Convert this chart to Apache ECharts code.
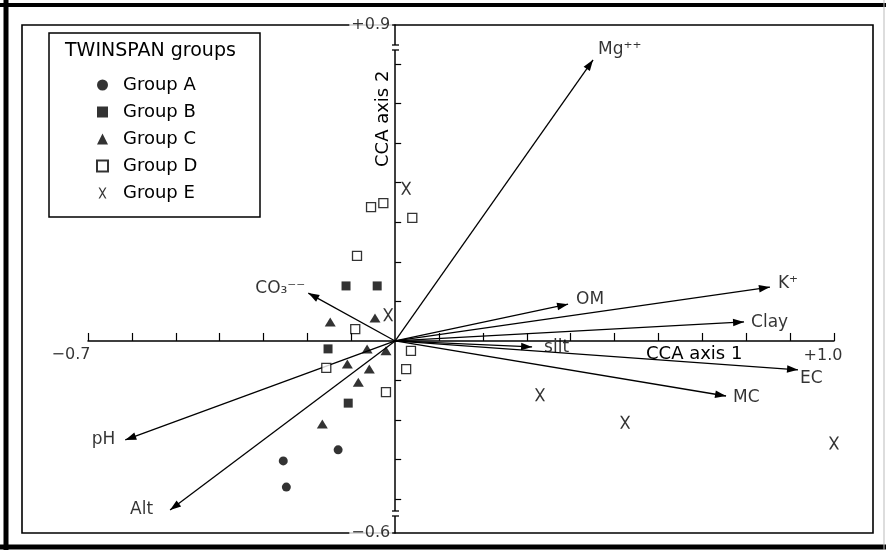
<!DOCTYPE html>
<html><head><meta charset="utf-8">
<script src="https://cdn.jsdelivr.net/npm/echarts@6/dist/echarts.min.js"></script>
<style>html,body{margin:0;padding:0;background:#fff}#c{width:886px;height:550px}</style>
</head><body><div id="c"></div>
<script>
// ---- data ----
const groupNames = ['Group A', 'Group B', 'Group C', 'Group D', 'Group E'];
const groupA = [[-0.255, -0.303], [-0.248, -0.369], [-0.130, -0.275]];
const groupB = [[-0.112, 0.139], [-0.041, 0.139], [-0.153, -0.020], [-0.107, -0.157]];
const groupC = [[-0.148, 0.048], [-0.046, 0.058], [-0.064, -0.020], [-0.021, -0.025],
                [-0.109, -0.058], [-0.059, -0.071], [-0.084, -0.104], [-0.166, -0.210]];
const groupD = [[-0.055, 0.338], [-0.027, 0.348], [0.039, 0.311], [-0.087, 0.215], [-0.091, 0.030],
                [-0.157, -0.068], [0.036, -0.025], [0.025, -0.071], [-0.021, -0.129]];
const groupE = [[0.025, 0.386], [-0.016, 0.066], [0.330, -0.136], [0.524, -0.205], [1.000, -0.258]];

const envNames = ['Mg⁺⁺', 'K⁺', 'OM', 'Clay', 'silt', 'EC', 'MC', 'CO₃⁻⁻', 'pH', 'Alt'];
const envAxis1 = [0.451, 0.854, 0.394, 0.795, 0.312, 0.918, 0.754, -0.198, -0.615, -0.513];
const envAxis2 = [0.710, 0.136, 0.093, 0.048, -0.015, -0.073, -0.139, 0.121, -0.250, -0.427];

const xTicks = [-0.7, -0.6, -0.5, -0.4, -0.3, -0.2, -0.1, 0.1, 0.2, 0.3, 0.4, 0.5, 0.6, 0.7, 0.8, 0.9, 1.0];
const yTicks = [-0.4, -0.3, -0.2, -0.1, 0.1, 0.2, 0.3, 0.4, 0.5, 0.6, 0.7];
const xEndLabels = ['−0.7', '+1.0'];
const yEndLabels = ['−0.6', '+0.9'];
const xAxisTitle = 'CCA axis 1';
const yAxisTitle = 'CCA axis 2';
const legendTitle = 'TWINSPAN groups';

// ---- layout / style ----
const X_MIN = -0.7, X_MAX = 1.0;
const Y_MIN = -0.485, Y_MAX = 0.798;   // broken axis: its ends are labelled -0.6 / +0.9
const FONT = 'DejaVu Sans';
const INK = '#000';
const xShape = 'path://M0,0L1.8,0L5,5.5L8.2,0L10,0L5.9,7L10,14L8.2,14L5,8.5L1.8,14L0,14L4.1,7Z';
const headShape = 'path://M0,0M22,0M11,11L14.8,22L7.2,22Z';

const envLabelLayout = [
  {position: 'right', offset: [0, -10]},
  {position: 'right', offset: [3, -4]},
  {position: 'right', offset: [3, -5]},
  {position: 'right', offset: [2, 1]},
  {position: 'right', offset: [7, 1]},
  {position: 'right', offset: [-3, 9]},
  {position: 'right', offset: [2, 2]},
  {position: 'left', offset: [2, -4]},
  {position: 'left', offset: [-5, 0]},
  {position: 'left', offset: [-12, 0]}
];

const groupStyles = [
  {symbol: 'circle', symbolSize: 9, itemStyle: {color: INK}},
  {symbol: 'rect', symbolSize: 9, itemStyle: {color: INK}},
  {symbol: 'triangle', symbolSize: [11, 9], itemStyle: {color: INK}},
  {symbol: 'rect', symbolSize: 9, itemStyle: {color: '#fff', borderColor: INK, borderWidth: 1.3}},
  {symbol: xShape, symbolSize: [10, 13], itemStyle: {color: INK}}
];
const groupData = [groupA, groupB, groupC, groupD, groupE];

const chart = echarts.init(document.getElementById('c'), null, {renderer: 'canvas'});

const series = groupNames.map((name, i) => Object.assign({
  name: name,
  type: 'scatter',
  data: groupData[i],
  z: 3
}, groupStyles[i]));

series.push({
  name: 'arrows',
  type: 'lines',
  coordinateSystem: 'cartesian2d',
  data: envNames.map((n, i) => ({coords: [[0, 0], [envAxis1[i], envAxis2[i]]]})),
  lineStyle: {color: INK, width: 1.3, opacity: 1, curveness: 0},
  symbol: ['none', headShape],
  symbolSize: 22,
  z: 2,
  silent: true
});

series.push({
  name: 'envLabels',
  type: 'scatter',
  symbolSize: 0,
  silent: true,
  data: envNames.map((n, i) => ({
    name: n,
    value: [envAxis1[i], envAxis2[i]],
    label: envLabelLayout[i]
  })),
  label: {show: true, formatter: '{b}', fontFamily: FONT, fontSize: 17, color: INK},
  z: 4
});

// end-of-axis labels, placed through the axes' own scales
const endLabelStyle = {show: true, formatter: '{b}', fontFamily: FONT, fontSize: 16, color: INK};
series.push({
  name: 'axisEnds',
  type: 'scatter',
  symbolSize: 0,
  silent: true,
  z: 7,
  data: [
    {name: xEndLabels[0], value: [X_MIN, 0], label: {position: 'bottom', distance: 6, offset: [-17, 0]}},
    {name: xEndLabels[1], value: [X_MAX, 0], label: {position: 'bottom', distance: 7, offset: [-11, 0]}},
    {name: yEndLabels[0], value: [0, Y_MIN], label: {position: 'left', distance: 3, backgroundColor: '#fff', padding: [1, 2]}},
    {name: yEndLabels[1], value: [0, Y_MAX], label: {position: 'left', distance: 3, backgroundColor: '#fff', padding: [1, 2]}}
  ],
  label: endLabelStyle
});

chart.setOption({
  animation: false,
  backgroundColor: '#fff',
  textStyle: {fontFamily: FONT},
  title: {
    text: legendTitle, left: 65, top: 42, padding: 0,
    textStyle: {fontFamily: FONT, fontSize: 19, fontWeight: 'normal', color: INK}
  },
  legend: {
    data: groupNames, orient: 'vertical', left: 96, top: 76, padding: 0,
    itemWidth: 11, itemHeight: 11, itemGap: 9, selectedMode: false,
    formatter: '{t|{name}}',
    textStyle: {
      fontFamily: FONT, fontSize: 18, color: INK,
      rich: {t: {fontFamily: FONT, fontSize: 18, color: INK, lineHeight: 20, padding: [0, 0, 0, 10]}}
    }
  },
  grid: {left: 88, right: 52, top: 25, bottom: 17, containLabel: false},
  xAxis: {
    type: 'value', min: X_MIN, max: X_MAX, z: 5,
    axisLine: {onZero: true, lineStyle: {color: INK, width: 1.5}},
    axisTick: {show: true, inside: true, length: 8, customValues: xTicks, lineStyle: {color: INK, width: 1.2}},
    splitLine: {show: false},
    axisLabel: {show: false},
    name: xAxisTitle, nameLocation: 'end', nameGap: -188,
    nameTextStyle: {fontFamily: FONT, fontSize: 18, color: INK, align: 'left', verticalAlign: 'top', padding: [4, 0, 0, 0]}
  },
  yAxis: {
    type: 'value', min: Y_MIN, max: Y_MAX, z: 6,
    axisLine: {onZero: true, lineStyle: {color: INK, width: 1.5}},
    axisTick: {show: true, inside: true, length: 6, customValues: yTicks, lineStyle: {color: INK, width: 1.2}},
    splitLine: {show: false},
    axisLabel: {show: false},
    name: yAxisTitle, nameLocation: 'end', nameRotate: 90, nameGap: -142,
    nameTextStyle: {fontFamily: FONT, fontSize: 18, color: INK, align: 'left', verticalAlign: 'bottom', padding: [0, 0, 3, 0]}
  },
  graphic: {
    elements: [
      {type: 'line', z: 0, shape: {x1: 0, y1: 5, x2: 886, y2: 5}, style: {stroke: '#000', lineWidth: 4}},
      {type: 'line', z: 0, shape: {x1: 6, y1: 0, x2: 6, y2: 550}, style: {stroke: '#000', lineWidth: 5}},
      {type: 'line', z: 0, shape: {x1: 0, y1: 547, x2: 886, y2: 547}, style: {stroke: '#000', lineWidth: 5}},
      {type: 'line', z: 0, shape: {x1: 884, y1: 0, x2: 884, y2: 550}, style: {stroke: '#bbb', lineWidth: 1}},
      {type: 'rect', z: 0, shape: {x: 22, y: 25, width: 851, height: 508}, style: {fill: 'none', stroke: INK, lineWidth: 1.6}},
      {type: 'rect', z: 0, shape: {x: 49, y: 33, width: 211, height: 184}, style: {fill: '#fff', stroke: INK, lineWidth: 1.5}},
      // axis-break marks on the vertical axis
      {type: 'rect', z: 20, shape: {x: 391, y: 45, width: 8, height: 5}, style: {fill: '#fff'}},
      {type: 'line', z: 20, shape: {x1: 392, y1: 45, x2: 399, y2: 45}, style: {stroke: INK, lineWidth: 1.3}},
      {type: 'line', z: 20, shape: {x1: 392, y1: 50, x2: 399, y2: 50}, style: {stroke: INK, lineWidth: 1.3}},
      {type: 'rect', z: 20, shape: {x: 391, y: 511, width: 8, height: 5}, style: {fill: '#fff'}},
      {type: 'line', z: 20, shape: {x1: 392, y1: 511, x2: 399, y2: 511}, style: {stroke: INK, lineWidth: 1.3}},
      {type: 'line', z: 20, shape: {x1: 392, y1: 516, x2: 399, y2: 516}, style: {stroke: INK, lineWidth: 1.3}}
    ]
  },
  series: series
});
</script></body></html>
